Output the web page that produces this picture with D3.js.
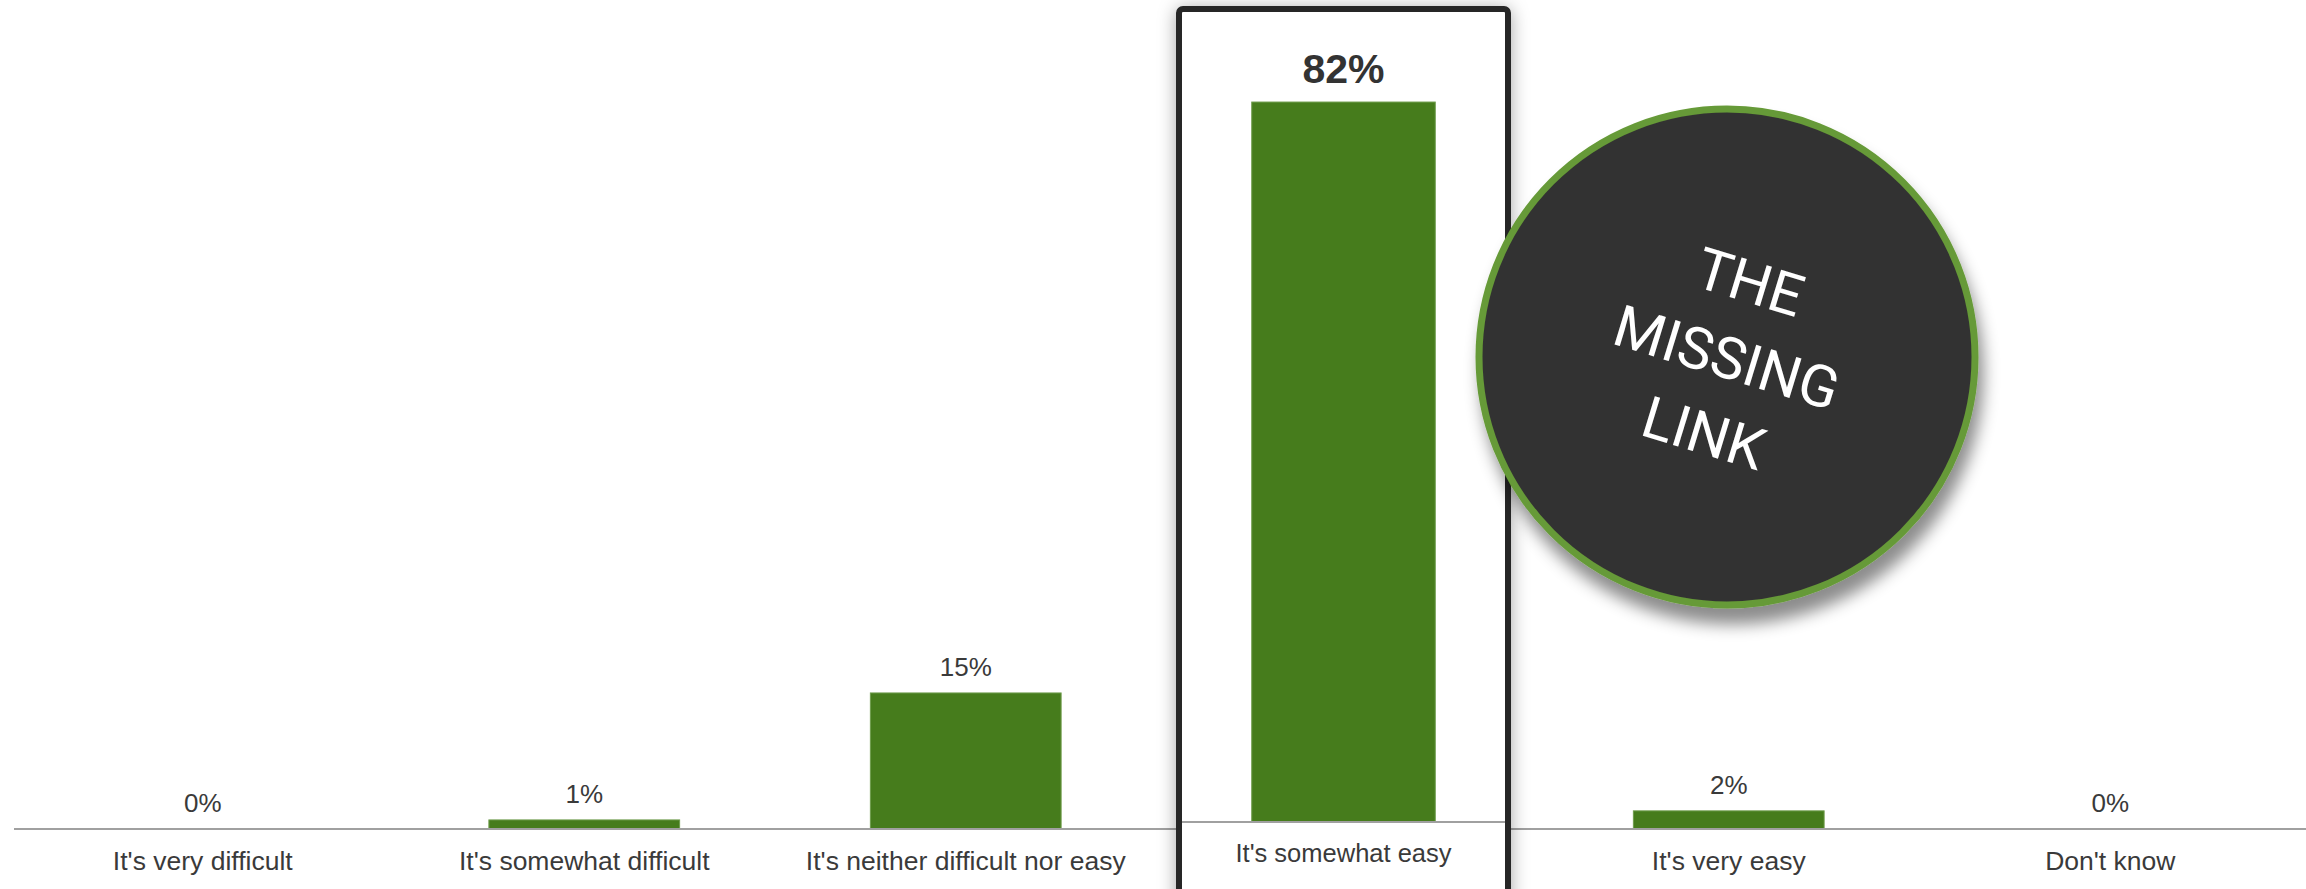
<!DOCTYPE html>
<html>
<head>
<meta charset="utf-8">
<script src="https://cdn.jsdelivr.net/npm/d3@7"></script>
<style>
html,body{margin:0;padding:0;background:#fff;overflow:hidden;}
svg{display:block;}
</style>
</head>
<body>
<svg id="chart" width="2306" height="889"></svg>
<script>
// ---- data ----
const categories = ["It's very difficult", "It's somewhat difficult", "It's neither difficult nor easy", "It's somewhat easy", "It's very easy", "Don't know"];
const values = [0, 1, 15, 82, 2, 0];
const valueLabels = ["0%", "1%", "15%", "82%", "2%", "0%"];
const highlightIndex = 3;
const badgeLines = ["THE", "MISSING", "LINK"];

const W = 2306, H = 889;
const svg = d3.select("#chart");
const defs = svg.append("defs");

const fBox = defs.append("filter").attr("id","boxShadow").attr("x","-20%").attr("y","-20%").attr("width","140%").attr("height","140%");
fBox.append("feDropShadow").attr("dx",0).attr("dy",2).attr("stdDeviation",9).attr("flood-color","#000").attr("flood-opacity",0.35);
const fCirc = defs.append("filter").attr("id","circShadow").attr("x","-30%").attr("y","-30%").attr("width","160%").attr("height","160%");
fCirc.append("feDropShadow").attr("dx",5).attr("dy",16).attr("stdDeviation",8).attr("flood-color","#000").attr("flood-opacity",0.45);

const barColor = "#467c1c";
const textColor = "#3a3a3a";
const font = "'Liberation Sans', Arial, sans-serif";

// ---- main chart scales ----
const x = d3.scaleBand().domain(categories).range([12, 2301]).paddingInner(0.5).paddingOuter(0.25);
const y = d3.scaleLinear().domain([0, 100]).range([829, 829 - 907]);

const main = svg.append("g");
const others = categories.map((c,i)=>({c, v:values[i], l:valueLabels[i], i})).filter(d=>d.i!==highlightIndex);

main.selectAll("rect.bar").data(others).join("rect")
  .attr("class","bar")
  .attr("x", d=>x(d.c)).attr("width", x.bandwidth())
  .attr("y", d=>y(d.v)).attr("height", d=>y(0)-y(d.v))
  .attr("fill", barColor).attr("stroke","#6e9c4c").attr("stroke-width",1);

// baseline axis
const axis = d3.axisBottom(x).tickSize(0).tickPadding(22);
const axG = main.append("g").attr("transform",`translate(0,${y(0)})`).call(axis);
axG.select(".domain").attr("stroke","#a0a0a0").attr("stroke-width",2).attr("d",`M14,0H${W}`);
axG.selectAll(".tick text").attr("font-family",font).attr("font-size",26.5).attr("fill",textColor)
  .attr("opacity",(d)=>d===categories[highlightIndex]?0:1);

main.selectAll("text.val").data(others).join("text")
  .attr("class","val")
  .attr("x", d=>x(d.c)+x.bandwidth()/2)
  .attr("y", d=>y(d.v)-17)
  .attr("text-anchor","middle")
  .attr("font-family",font).attr("font-size",26).attr("fill",textColor)
  .text(d=>d.l);

// ---- highlight inset box ----
const boxX = 1179, boxW = 329, boxY = 9;
const inset = svg.append("g");
inset.append("rect").attr("x",boxX).attr("y",boxY).attr("width",boxW).attr("height",H+20)
  .attr("rx",4).attr("fill","#fff").attr("stroke","#262626").attr("stroke-width",6)
  .attr("filter","url(#boxShadow)");

const hx = d3.scaleBand().domain([categories[highlightIndex]]).range([boxX+3, boxX+boxW-3]).paddingInner(0).paddingOuter(0.38);
const hy = d3.scaleLinear().domain([0,100]).range([822, 822 - 878]);
const hc = categories[highlightIndex];
inset.append("rect")
  .attr("x", hx(hc)).attr("width", hx.bandwidth())
  .attr("y", hy(values[highlightIndex])).attr("height", hy(0)-hy(values[highlightIndex]))
  .attr("fill", barColor).attr("stroke","#6e9c4c").attr("stroke-width",1);
const hAx = inset.append("g").attr("transform",`translate(0,${hy(0)})`).call(d3.axisBottom(hx).tickSize(0).tickPadding(22));
hAx.select(".domain").attr("stroke","#a0a0a0").attr("stroke-width",2).attr("d",`M${boxX+3},0H${boxX+boxW-3}`);
hAx.selectAll(".tick text").attr("font-family",font).attr("font-size",25.5).attr("fill",textColor);
inset.append("text")
  .attr("x", hx(hc)+hx.bandwidth()/2).attr("y", hy(values[highlightIndex])-19)
  .attr("text-anchor","middle").attr("font-family",font).attr("font-weight","bold")
  .attr("font-size",41).attr("fill","#333").text(valueLabels[highlightIndex]);

// ---- badge ----
const badge = svg.append("g").attr("transform","translate(1727,357)");
badge.append("circle").attr("r",248).attr("fill","#333333").attr("stroke","#669a37").attr("stroke-width",7)
  .attr("filter","url(#circShadow)");
const bt = badge.append("g").attr("transform","rotate(17)");
bt.selectAll("text").data(badgeLines).join("text")
  .attr("x",0).attr("y",(d,i)=>(i-1)*79)
  .attr("dy","0.36em")
  .attr("text-anchor","middle")
  .attr("font-family","Roboto, 'Open Sans', sans-serif").attr("font-weight",400)
  .attr("font-size",58).attr("fill","#fff")
  .text(d=>d);
</script>
</body>
</html>
